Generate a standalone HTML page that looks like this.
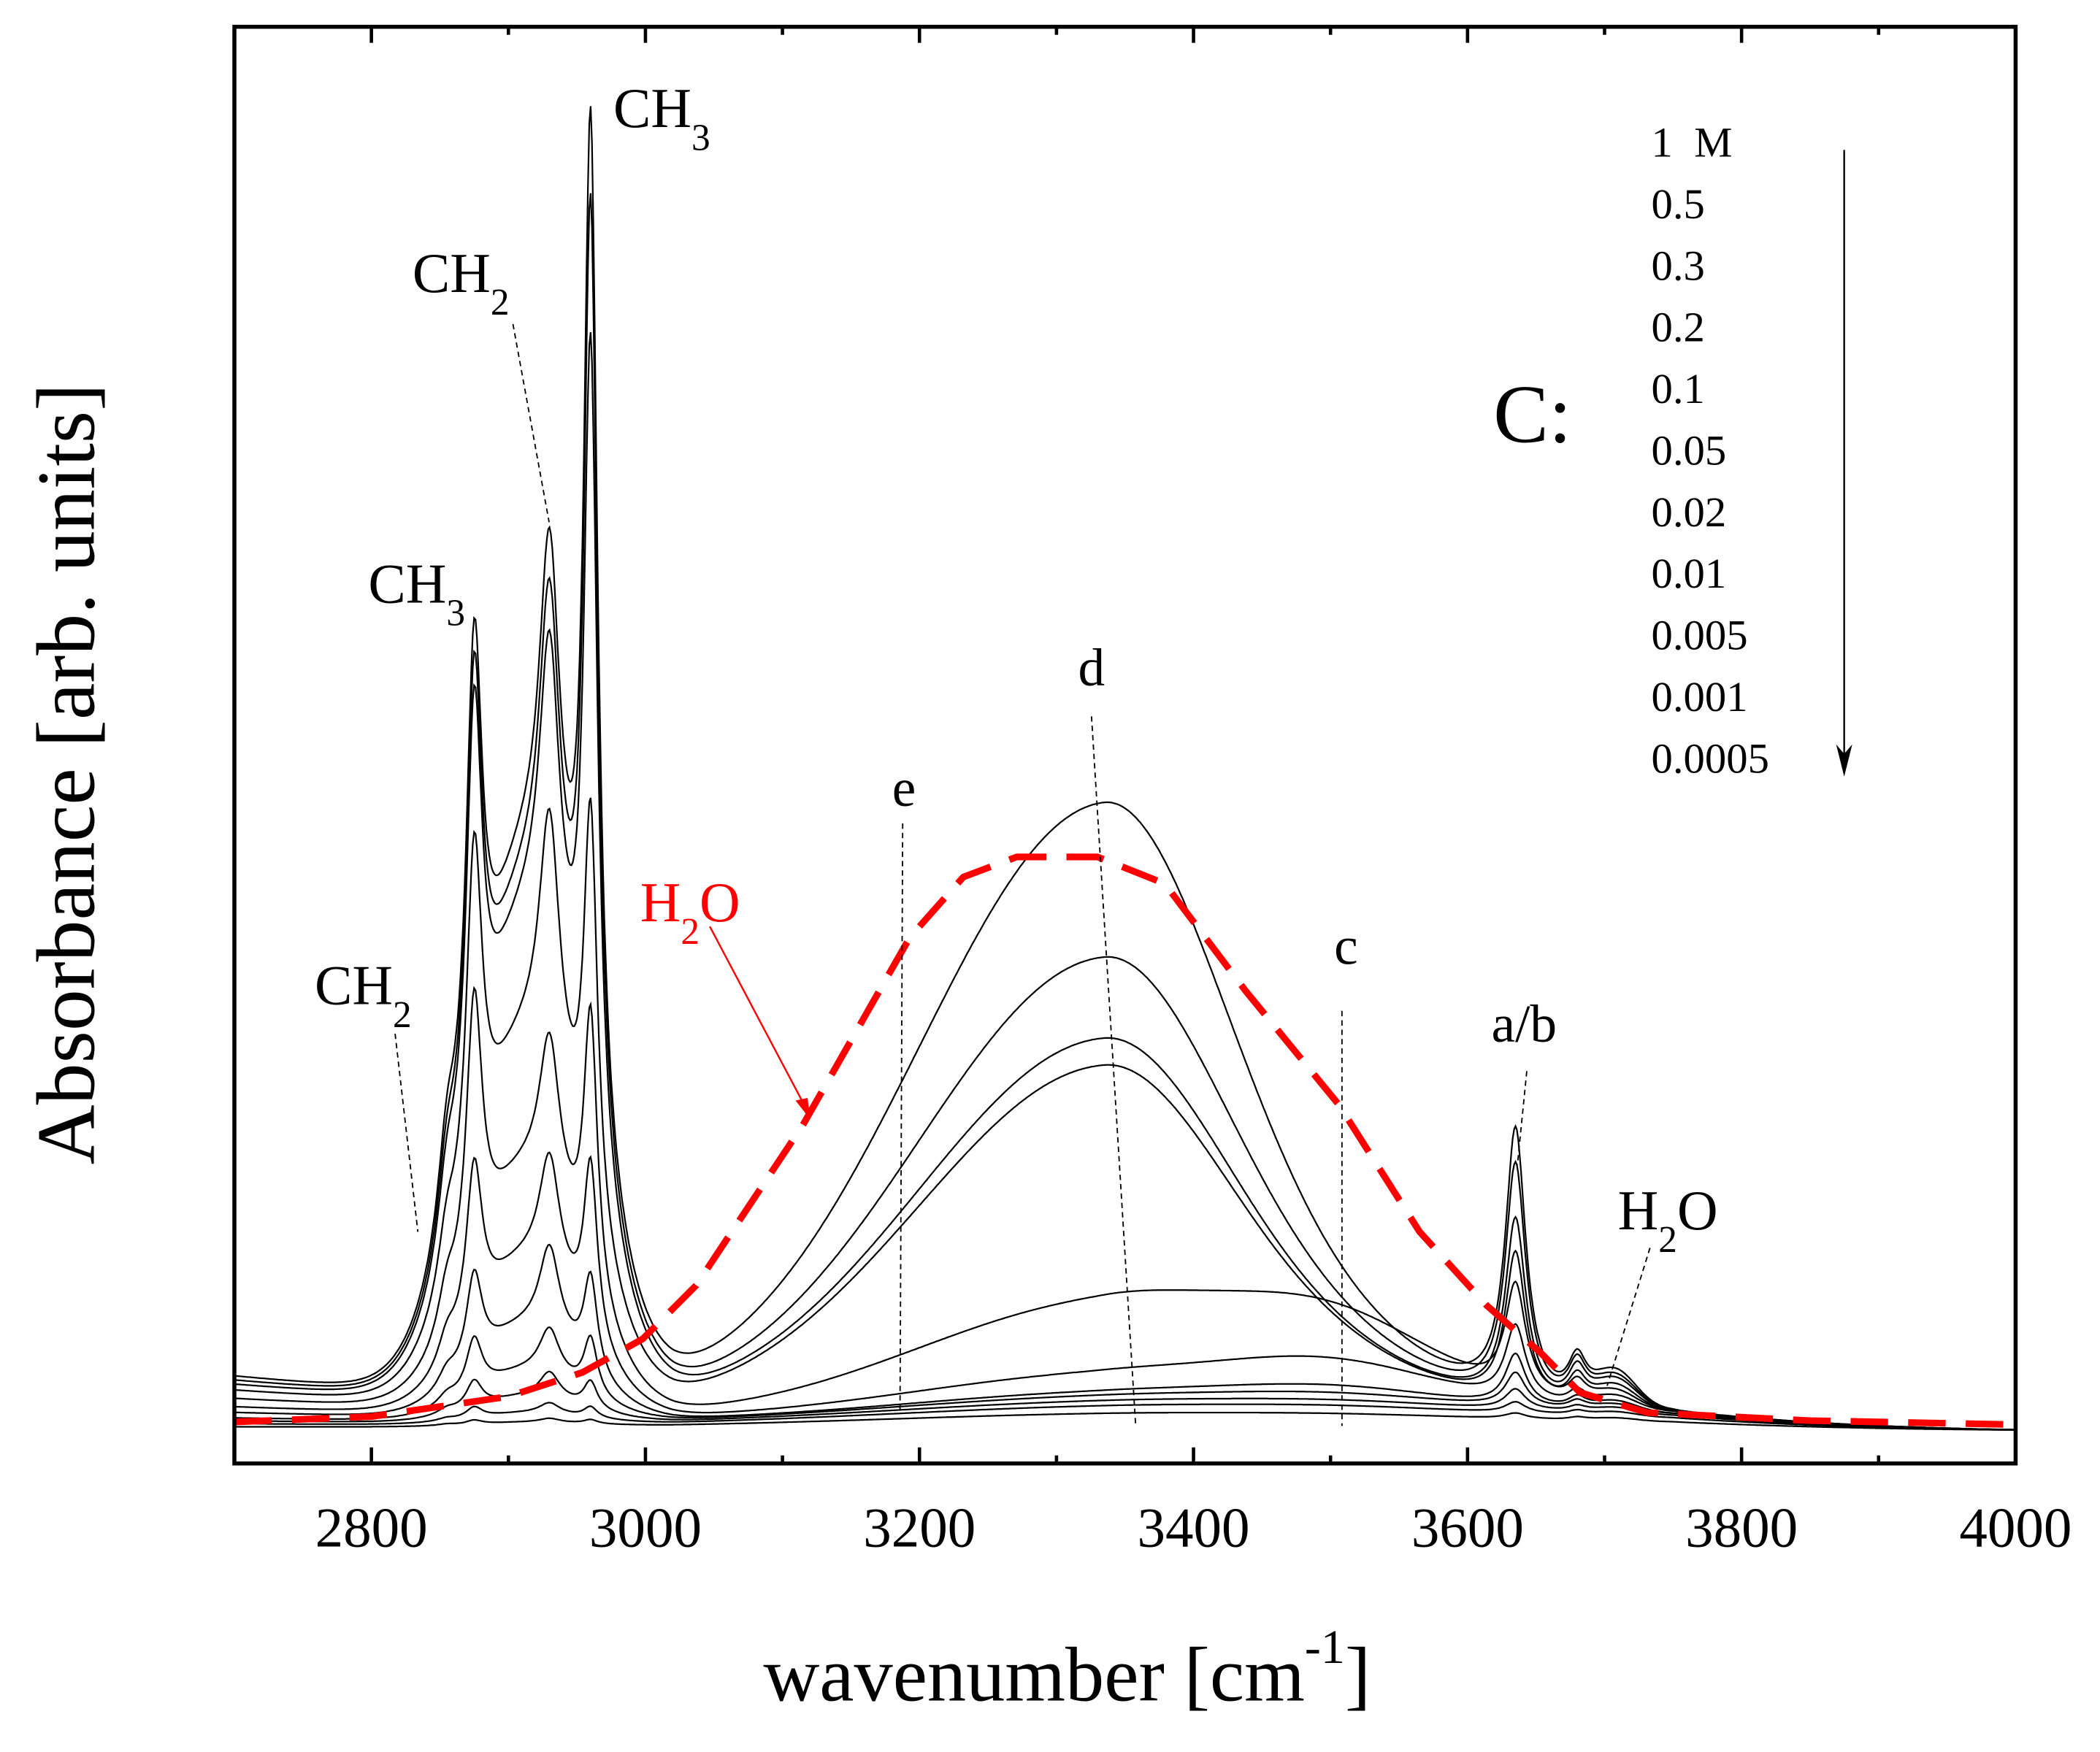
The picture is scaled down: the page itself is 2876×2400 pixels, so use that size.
<!DOCTYPE html>
<html><head><meta charset="utf-8"><style>
html,body{margin:0;padding:0;background:#fff;}
svg{display:block;}
text{font-family:"Liberation Serif",serif;fill:#000;}
</style></head><body>
<svg id="chart" width="2876" height="2400" viewBox="0 0 1568 1308.5" font-family="Liberation Serif, serif" xmlns="http://www.w3.org/2000/svg">
<rect x="0" y="0" width="1568" height="1308.5" fill="#fff"/>
<g id="curves"></g>
<g id="water"></g>
<g id="axes"></g>
<g id="annot">
 <text x="458" y="95" font-size="42">CH<tspan font-size="28" dy="17">3</tspan></text>
 <text x="308" y="218" font-size="42">CH<tspan font-size="28" dy="17">2</tspan></text>
 <line x1="383" y1="242" x2="410" y2="390" stroke="#000" stroke-width="1" stroke-dasharray="4,3"/>
 <text x="275" y="450" font-size="42">CH<tspan font-size="28" dy="17">3</tspan></text>
 <text x="235" y="750" font-size="42">CH<tspan font-size="28" dy="17">2</tspan></text>
 <line x1="295" y1="772" x2="312" y2="920" stroke="#000" stroke-width="1" stroke-dasharray="4,3"/>
 <text x="478" y="688" font-size="42" style="fill:#f00">H<tspan font-size="28" dy="17" style="fill:#f00">2</tspan><tspan dy="-17" style="fill:#f00">O</tspan></text>
 <line x1="530" y1="692" x2="603" y2="830" stroke="#f00" stroke-width="1.3"/>
 <path d="M605,836 L594,822 L603,820 Z" fill="#f00"/>
 <text x="675" y="602" font-size="40" text-anchor="middle">e</text>
 <line x1="674" y1="615" x2="672" y2="1055" stroke="#000" stroke-width="1" stroke-dasharray="4,3"/>
 <text x="815" y="512" font-size="40" text-anchor="middle">d</text>
 <line x1="815" y1="535" x2="848" y2="1065" stroke="#000" stroke-width="1" stroke-dasharray="4,3"/>
 <text x="1005" y="720" font-size="40" text-anchor="middle">c</text>
 <line x1="1002" y1="755" x2="1002" y2="1065" stroke="#000" stroke-width="1" stroke-dasharray="4,3"/>
 <text x="1138" y="778" font-size="40" text-anchor="middle">a/b</text>
 <line x1="1140" y1="800" x2="1133" y2="870" stroke="#000" stroke-width="1" stroke-dasharray="4,3"/>
 <text x="1208" y="918" font-size="42">H<tspan font-size="28" dy="17">2</tspan><tspan dy="-17">O</tspan></text>
 <line x1="1232" y1="932" x2="1200" y2="1035" stroke="#000" stroke-width="1" stroke-dasharray="4,3"/>
 <text x="1115" y="330" font-size="62">C:</text>
 <g id="legend"></g>
 <line x1="1377" y1="112" x2="1377" y2="575" stroke="#000" stroke-width="1.3"/>
 <path d="M1377,580 L1371,556 L1377,563 L1383,556 Z" fill="#000"/>
 <text x="570" y="1270" font-size="58">wavenumber [cm<tspan font-size="36" dy="-28">-1</tspan><tspan dy="28">]</tspan></text>
 <text transform="translate(70,578) rotate(-90)" x="0" y="0" font-size="62" text-anchor="middle">Absorbance [arb. units]</text>
</g>
</svg>
<script>
// ---- data ----
const concLabels = ["1  M","0.5","0.3","0.2","0.1","0.05","0.02","0.01","0.005","0.001","0.0005"];
const xTicks = [2800,3000,3200,3400,3600,3800,4000];
const xMinor = [2700,2900,3100,3300,3500,3700,3900];
// peak amplitudes per concentration (arb. units)
const leftOffset = [38,35,32,28,22,16,12,8,6,4,2];
const chEnvelope = [380,360,340,260,170,110,65,35,18,8,3];
const ch2855 = [60,55,50,40,30,20,12,7,4,2,1];
const ch2875 = [335,325,315,260,205,120,68,40,20,8,3];
const ch2930 = [265,250,235,190,115,88,66,35,20,8,3];
const ch2960 = [740,690,600,300,205,128,70,42,20,8,3];
const ohMain = [445,330,270,250,75,22,10,7,5,4,3];
const ohShoulder = [30,25,20,20,60,28,12,7,4,3,2];
const freeOH3635 = [200,175,135,110,80,55,38,25,15,8,4];
const peak3680 = [30,28,25,20,15,10,8,6,4,3,2];
const peak3705 = [25,22,20,16,12,9,7,5,4,3,2];
const baseHump = [22,22,22,22,22,22,20,20,18,15,10];
// water reference (dashed red)
const waterWn = [2700,2800,2900,2954,2998,3037,3115,3193,3232,3271,3330,3379,3438,3506,3565,3614,3653,3682,3731,3850,4000];
const waterVal = [6,10,25,43,68,108,228,368,413,428,428,408,328,243,148,93,58,28,13,7,4];

// ---- scales ----
const X0=175,X1=1505,Y0=1068;
function xs(w){return X0+(w-2700)/1300*(X1-X0);}
function ys(v){return Y0-v;}
function lor(w,c,h){return h*h/((w-c)*(w-c)+h*h);}
function gau(w,c,s){return Math.exp(-(w-c)*(w-c)/(2*s*s));}

function spectrum(i,w){
  let v=0;
  v+=leftOffset[i]*Math.max(0,Math.min(1,(3020-w)/320));
  v+=chEnvelope[i]*gau(w,2915,40);
  v+=ch2855[i]*lor(w,2855,8);
  v+=ch2875[i]*lor(w,2875,7);
  v+=ch2930[i]*lor(w,2930,9);
  v+=ch2960[i]*lor(w,2960,6);
  const s=w<3335?135:90;
  v+=ohMain[i]*gau(w,3335,s);
  v+=ohShoulder[i]*gau(w,3500,75);
  v+=freeOH3635[i]*lor(w,3635,9);
  v+=peak3680[i]*lor(w,3680,8);
  v+=peak3705[i]*gau(w,3708,15);
  v+=baseHump[i]*gau(w,3450,300)*Math.max(0,Math.min(1,(4000-w)/250));
  return v;
}

const NS="http://www.w3.org/2000/svg";
const cg=document.getElementById('curves');
for(let i=0;i<concLabels.length;i++){
  let d="";
  for(let w=2700;w<=4000;w+=1){
    d+=(w===2700?"M":"L")+xs(w).toFixed(1)+","+ys(spectrum(i,w)).toFixed(1);
  }
  const p=document.createElementNS(NS,'path');
  p.setAttribute('d',d);p.setAttribute('fill','none');p.setAttribute('stroke','#000');p.setAttribute('stroke-width','1.2');
  
  
  cg.appendChild(p);
}
// water curve
{
  let d="";
  waterWn.forEach((w,k)=>{d+=(k?"L":"M")+xs(w).toFixed(1)+","+ys(waterVal[k]).toFixed(1);});
  const p=document.createElementNS(NS,'path');
  p.setAttribute('d',d);p.setAttribute('fill','none');p.setAttribute('stroke','#f00');p.setAttribute('stroke-width','5');
  p.setAttribute('stroke-dasharray','28,15');p.setAttribute('stroke-linejoin','round');
  
  
  document.getElementById('water').appendChild(p);
}
// axes
const ag=document.getElementById('axes');
const fr=document.createElementNS(NS,'rect');
fr.setAttribute('x',X0);fr.setAttribute('y',20);fr.setAttribute('width',X1-X0);fr.setAttribute('height',1093-20);
fr.setAttribute('fill','none');fr.setAttribute('stroke','#000');fr.setAttribute('stroke-width','3');


ag.appendChild(fr);
function tick(w,len){
  [[1093,1093-len],[20,20+len]].forEach(([a,b])=>{
    const l=document.createElementNS(NS,'line');
    l.setAttribute('x1',xs(w));l.setAttribute('x2',xs(w));l.setAttribute('y1',a);l.setAttribute('y2',b);
    l.setAttribute('stroke','#000');l.setAttribute('stroke-width','2.5');
    
    
    ag.appendChild(l);
  });
}
xTicks.forEach(w=>{
  tick(w,12);
  const t=document.createElementNS(NS,'text');
  t.setAttribute('x',xs(w));t.setAttribute('y',1155);t.setAttribute('font-size','42');t.setAttribute('text-anchor','middle');
  t.textContent=w;
  
  
  ag.appendChild(t);
});
xMinor.forEach(w=>tick(w,6));
// legend
const lg=document.getElementById('legend');
concLabels.forEach((c,k)=>{
  const t=document.createElementNS(NS,'text');
  t.setAttribute('x',1233);t.setAttribute('y',117+k*46);t.setAttribute('font-size','32');
  t.setAttribute('xml:space','preserve');t.style.whiteSpace='pre';
  t.textContent=c;
  
  
  lg.appendChild(t);
});
</script>
</body></html>
